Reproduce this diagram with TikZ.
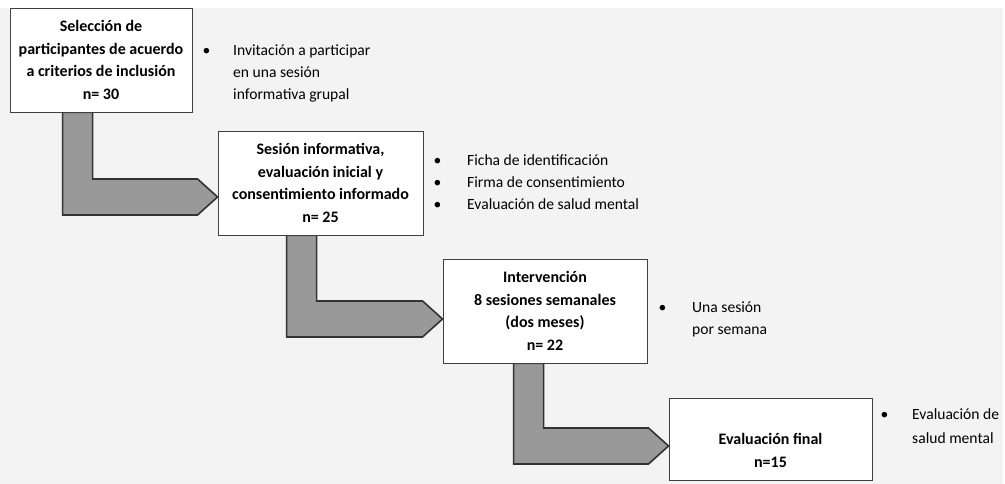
\documentclass[tikz,border=0pt]{standalone}
\usepackage{fontspec}
\setmainfont{Carlito}
\usepackage{tikz}
\usetikzlibrary{calc,backgrounds}
\definecolor{pagegray}{HTML}{F3F3F3}
\tikzset{
  stepbox/.style ={rectangle, draw=black!75, fill=white, line width=0.9pt, align=center,
                   inner sep=0pt, font=\fontsize{16}{22.5}\selectfont\bfseries},
  elbowarr/.style={fill=black!40, draw=black!80, line width=1.6pt, line join=miter},
  blist/.style   ={anchor=base west, inner sep=0pt, font=\fontsize{15.6}{22}\selectfont},
}
% L-shaped block arrow: from box #1 (bar at #3 from its left side) to box #2 (tip shifted by #4)
\newcommand{\elbow}[4]{%
  \draw[elbowarr] let \p1=($(#1.south west)+(#3,0)$), \p2=($(#2.west)+(0,#4)$) in
    (\x1,\y1) -- (\x1+30pt,\y1) -- (\x1+30pt,\y2+18pt) -- (\x2-20pt,\y2+18pt)
    -- (\x2,\y2) -- (\x2-20pt,\y2-18pt) -- (\x1,\y2-18pt) -- cycle;}

\begin{document}
\begin{tikzpicture}[x=1pt,y=1pt]
  \useasboundingbox (0,0) rectangle (1005,484);
  % boxes
  \node[stepbox, minimum width=182, minimum height=104] (sel) at (101,424)
    {Selección de\\participantes de acuerdo\\a criterios de inclusión\\n= 30};
  \node[stepbox, minimum width=205, minimum height=104] (ses) at (320.5,301)
    {Sesión informativa,\\evaluación inicial y\\consentimiento informado\\n= 25};
  \node[stepbox, minimum width=204, minimum height=104] (int) at (545,173)
    {Intervención\\8 sesiones semanales\\(dos meses)\\n= 22};
  \node[stepbox, minimum width=203, minimum height=82] (fin) at (770.5,45)
    {\rule{0pt}{34pt}Evaluación final\\n=15};
  % bullet notes
  \node[blist] (l1) at (202.5,428) {\begin{tabular}[t]{@{}p{30.5pt}@{}l@{}}
    \textbullet & Invitación a participar\\ & en una sesión\\ & informativa grupal\end{tabular}};
  \node[blist] (l2) at (433.5,318) {\begin{tabular}[t]{@{}p{33.5pt}@{}l@{}}
    \textbullet & Ficha de identificación\\ \textbullet & Firma de consentimiento\\
    \textbullet & Evaluación de salud mental\end{tabular}};
  \node[blist] (l3) at (658.5,171) {\begin{tabular}[t]{@{}p{33.5pt}@{}l@{}}
    \textbullet & Una sesión\\ & por semana\end{tabular}};
  \node[blist] (l4) at (880.5,64) {\begin{tabular}[t]{@{}p{31.5pt}@{}l@{}}
    \textbullet & Evaluación de\\[2pt] & salud mental\end{tabular}};
  % page and arrows
  \begin{scope}[on background layer]
    \fill[white] (0,0) rectangle (1005,484);
    \fill[pagegray] (0,0) rectangle (1003,476);
    \elbow{sel}{ses}{53}{-14}
    \elbow{ses}{int}{69}{-8}
    \elbow{int}{fin}{71}{-7}
  \end{scope}
\end{tikzpicture}
\end{document}
